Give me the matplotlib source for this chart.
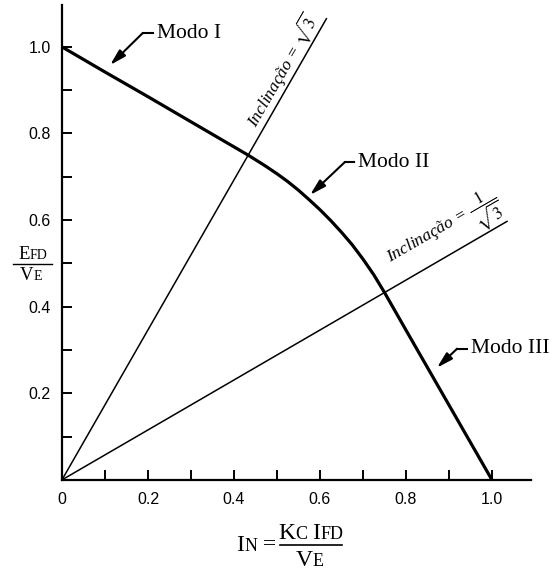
import numpy as np
import matplotlib
matplotlib.use("Agg")
import matplotlib.pyplot as plt
from matplotlib.ticker import MultipleLocator, FixedLocator, FixedFormatter
from matplotlib.transforms import IdentityTransform

plt.rcParams['mathtext.fontset'] = 'stix'

# curve of the three modes
modo_x = [0.0, 0.1, 0.2, 0.3, 0.433, 0.47, 0.5, 0.525, 0.55, 0.575, 0.6, 0.625,
          0.65, 0.675, 0.7, 0.725, 0.75, 0.8, 0.9, 1.0]
modo_y = [1.0, 0.942, 0.885, 0.827, 0.75, 0.727, 0.707, 0.689, 0.669, 0.647, 0.624,
          0.599, 0.572, 0.543, 0.51, 0.474, 0.433, 0.346, 0.173, 0.0]

# slope lines
steep_x = [0.0, 0.615]
steep_y = [0.0, 1.065]
flat_x = [0.0, 1.035]
flat_y = [0.0, 0.597]

x_ticks = [0, 0.2, 0.4, 0.6, 0.8, 1.0]
x_labels = ['0', '0.2', '0.4', '0.6', '0.8', '1.0']
y_ticks = [0.2, 0.4, 0.6, 0.8, 1.0]
y_labels = ['0.2', '0.4', '0.6', '0.8', '1.0']

# annotations: label, arrow tip, bend, end of horizontal stub
modos = [
    ('Modo I', (0.112, 0.958), (0.188, 1.032), (0.212, 1.032)),
    ('Modo II', (0.577, 0.658), (0.658, 0.734), (0.679, 0.734)),
    ('Modo III', (0.872, 0.259), (0.919, 0.303), (0.942, 0.303)),
]

fig = plt.figure(figsize=(5.53, 5.72), dpi=100)
ax = fig.add_axes([0.112, 0.161, 0.8476, 0.8305])

ax.plot(modo_x, modo_y, color='black', lw=2.3, solid_joinstyle='round')
ax.plot(steep_x, steep_y, color='black', lw=1.1)
ax.plot(flat_x, flat_y, color='black', lw=1.1)

for nome, tip, bend, stub in modos:
    ax.plot([bend[0], stub[0]], [bend[1], stub[1]], color='black', lw=1.5)
    ax.annotate('', xy=tip, xytext=bend,
                arrowprops=dict(arrowstyle='-|>,head_length=0.8,head_width=0.22',
                                color='black', lw=1.5, mutation_scale=12,
                                shrinkA=0, shrinkB=0))
    ax.text(stub[0] + 0.01, stub[1], nome, fontsize=15.5, family='Liberation Serif',
            ha='left', va='center')

ax.text(0.451, 0.812, 'Inclinação = $\\sqrt{3}$', fontsize=12.5, family='Liberation Serif',
        style='italic', rotation=60, rotation_mode='anchor', ha='left', va='baseline')
ax.text(0.762, 0.503, 'Inclinação = $\\dfrac{1}{\\sqrt{3}}$', fontsize=12.5,
        family='Liberation Serif', style='italic', rotation=30, rotation_mode='anchor',
        ha='left', va='baseline')

ax.set_xlim(0, 1.09)
ax.set_ylim(0, 1.097)
ax.spines['top'].set_visible(False)
ax.spines['right'].set_visible(False)
ax.spines['left'].set_linewidth(1.6)
ax.spines['bottom'].set_linewidth(1.6)

ax.xaxis.set_major_locator(FixedLocator(x_ticks))
ax.xaxis.set_major_formatter(FixedFormatter(x_labels))
ax.yaxis.set_major_locator(FixedLocator(y_ticks))
ax.yaxis.set_major_formatter(FixedFormatter(y_labels))
ax.xaxis.set_minor_locator(MultipleLocator(0.1))
ax.yaxis.set_minor_locator(MultipleLocator(0.1))
ax.tick_params(which='both', direction='in', length=7, width=1.4)
ax.tick_params(axis='x', pad=9)
ax.tick_params(axis='y', pad=8)
for lab in ax.get_xticklabels() + ax.get_yticklabels():
    lab.set_family('Liberation Sans')
    lab.set_fontsize(11.5)

# small-caps style axis labels, placed in figure pixels
renderer = fig.canvas.get_renderer()
H = 572


def sc_line(xc, py, parts):
    texts = []
    for s, size in parts:
        t = fig.text(0, 0, s, fontsize=size, family='Liberation Serif',
                     transform=IdentityTransform(), ha='left', va='baseline')
        texts.append(t)
    widths = [t.get_window_extent(renderer).width for t in texts]
    x = xc - sum(widths) / 2
    for t, w in zip(texts, widths):
        t.set_position((x, H - py))
        x += w
    return sum(widths)


# y label: EFD / VE
sc_line(33, 259, [('E', 13.5), ('FD', 10)])
fig.add_artist(plt.Line2D([13, 52], [H - 264, H - 264], color='black', lw=1.0,
                          transform=IdentityTransform()))
sc_line(31, 280, [('V', 13.5), ('E', 10)])

# x label: IN = KC IFD / VE
sc_line(259, 551, [('I', 17), ('N', 13), (' = ', 17)])
sc_line(311, 539, [('K', 17), ('C ', 13), ('I', 17), ('FD', 13)])
fig.add_artist(plt.Line2D([280, 342], [H - 545, H - 545], color='black', lw=1.2,
                          transform=IdentityTransform()))
sc_line(310, 566, [('V', 17), ('E', 13)])

fig.savefig('out.png', dpi=100)
